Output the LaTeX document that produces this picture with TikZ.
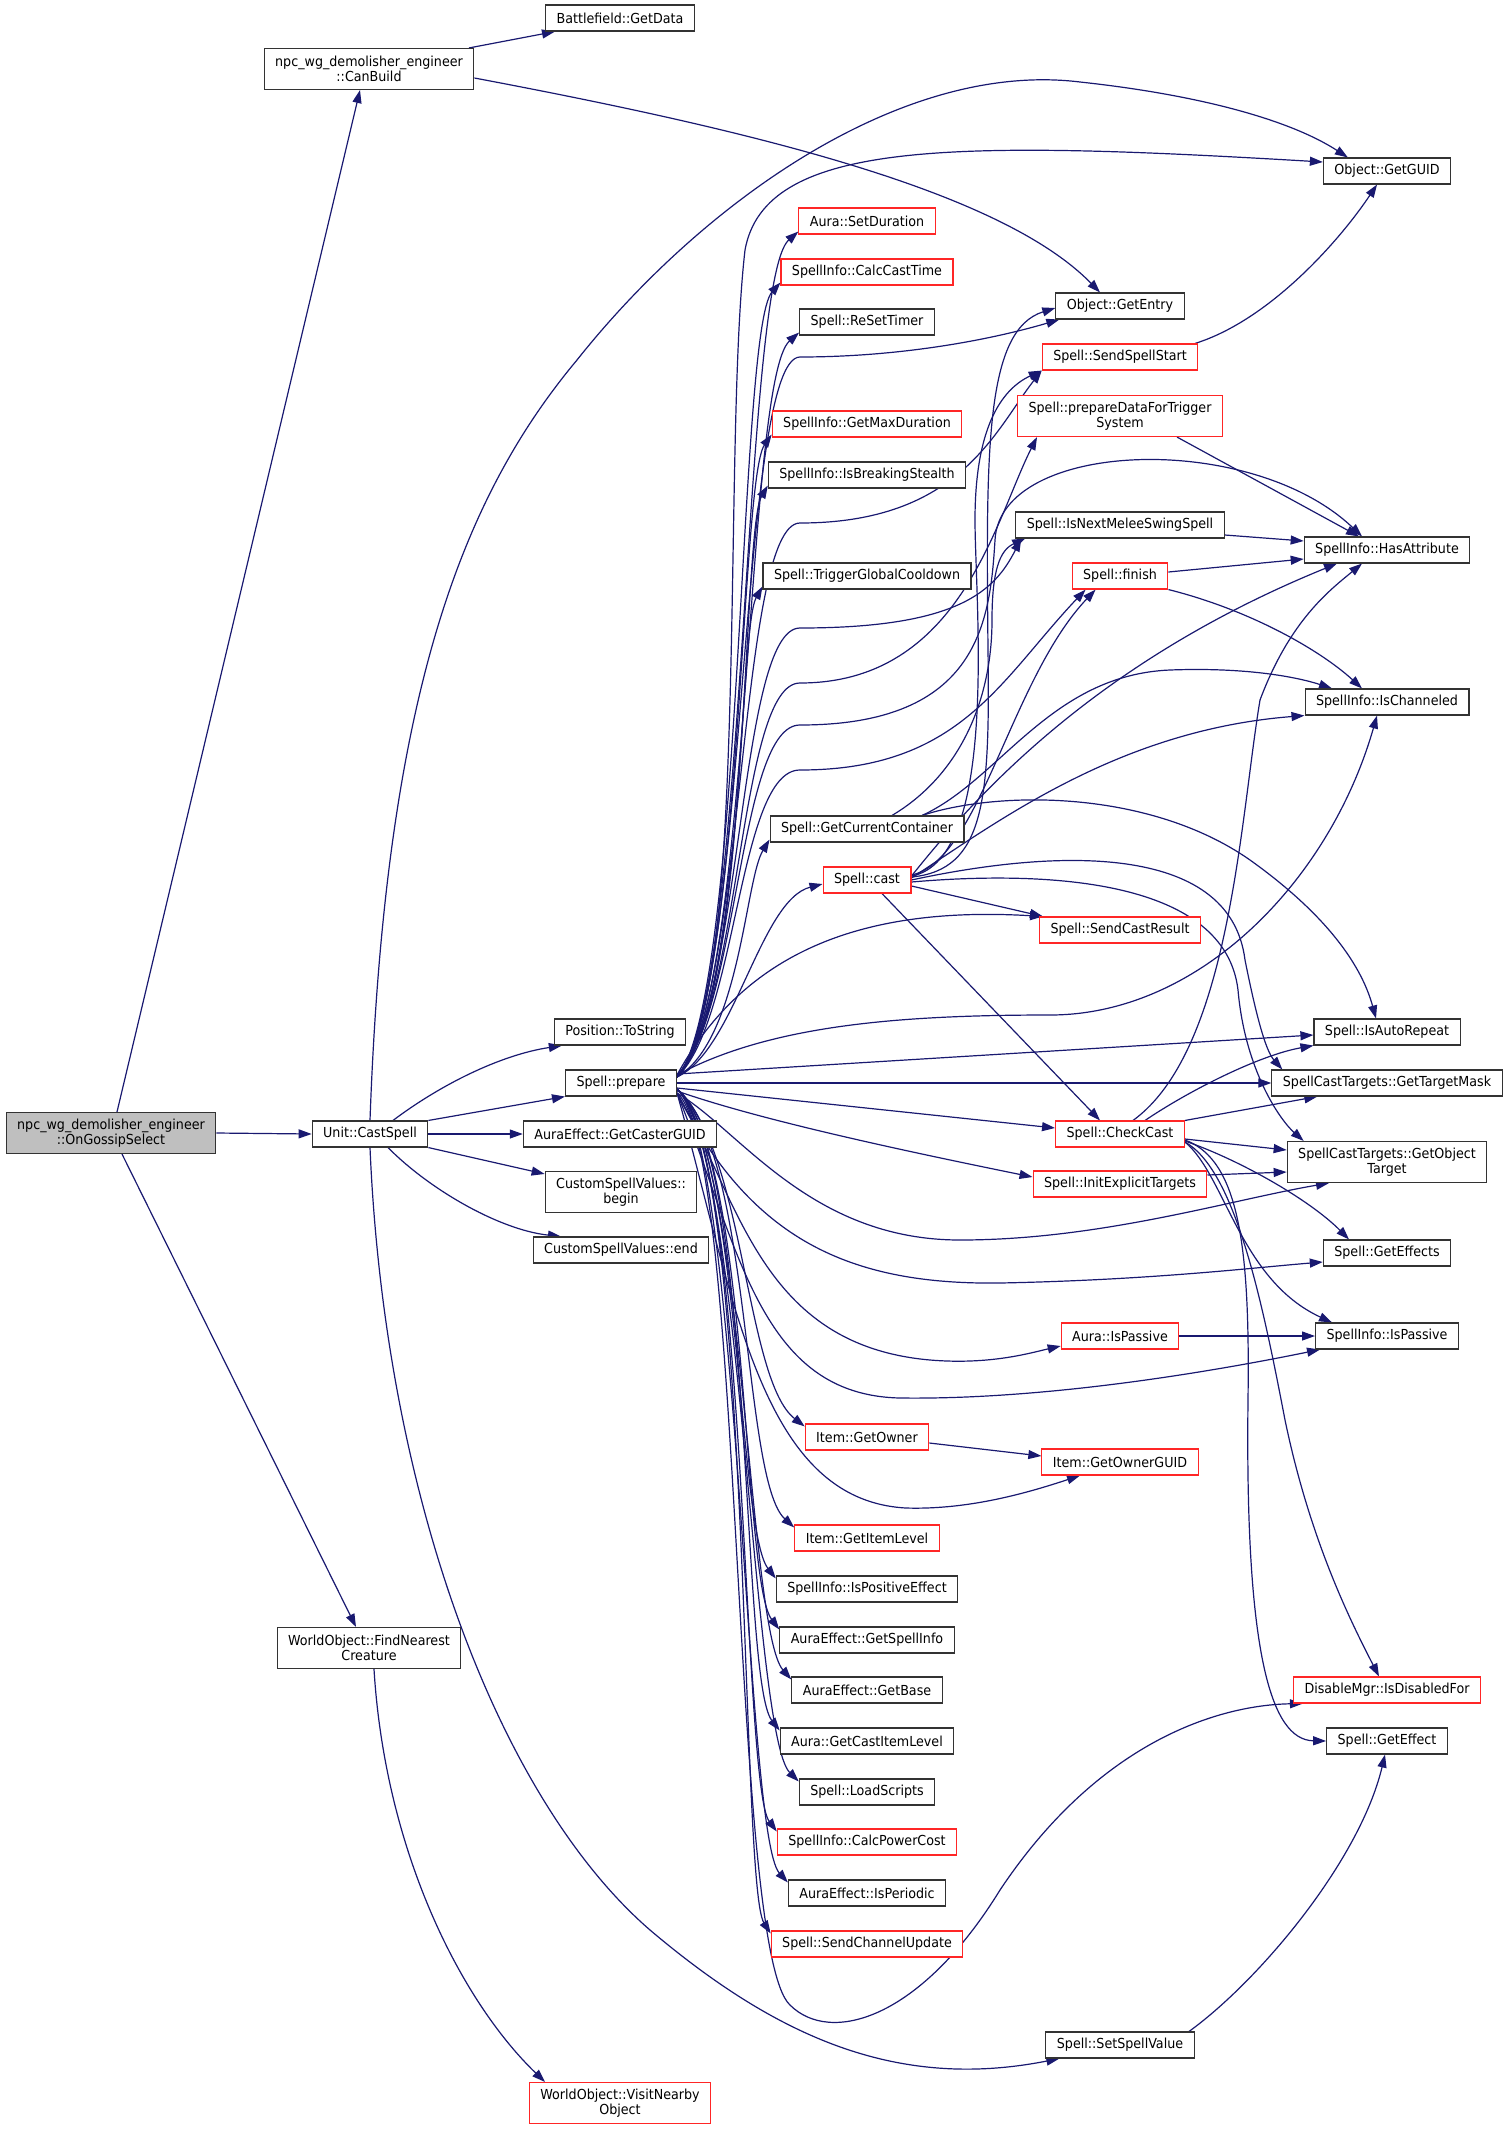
\documentclass[tikz,border=0pt]{standalone}
\usepackage{fontspec}
\setmainfont{DejaVu Sans}[FakeStretch=0.92]
\usetikzlibrary{arrows.meta}
\definecolor{edgeblue}{RGB}{25,25,112}
\definecolor{boxgray}{RGB}{191,191,191}
\pgfdeclarelayer{bg}
\pgfsetlayers{bg,main}
\tikzset{
  fn/.style={draw=black!80, line width=1.1pt, fill=white, minimum height=26pt, inner xsep=11pt, inner ysep=2pt, align=center, font=\fontsize{13.8}{14.7}\selectfont},
  fnr/.style={fn, draw=red!85!white},
  two/.style={minimum height=41pt},
  call/.style={draw=edgeblue, line width=1.2pt, -{Triangle[length=13pt,width=9pt]}}
}

\begin{document}
\begin{tikzpicture}[x=1pt,y=-1pt]
\useasboundingbox (0,0) rectangle (1508,2130);
\node[fn,two,fill=boxgray] (gossip) at (111,1133) {npc\_wg\_demolisher\_engineer\\::OnGossipSelect};
\node[fn,two] (canbuild) at (369,69) {npc\_wg\_demolisher\_engineer\\::CanBuild};
\node[fn] (castspell) at (370,1134) {Unit::CastSpell};
\node[fn,two] (findnear) at (369,1648) {WorldObject::FindNearest\\Creature};
\node[fn] (getdata) at (620,18) {Battlefield::GetData};
\node[fn] (tostring) at (620,1032) {Position::ToString};
\node[fn] (prepare) at (621,1083) {Spell::prepare};
\node[fn] (castergd) at (620,1134) {AuraEffect::GetCasterGUID};
\node[fn,two] (cbegin) at (621,1192) {CustomSpellValues::\\begin};
\node[fn] (cend) at (621,1250) {CustomSpellValues::end};
\node[fnr,two] (visit) at (620,2103) {WorldObject::VisitNearby\\Object};
\node[fnr] (setdur) at (867,221) {Aura::SetDuration};
\node[fnr] (calccast) at (867,272) {SpellInfo::CalcCastTime};
\node[fn] (resettimer) at (867,322) {Spell::ReSetTimer};
\node[fnr] (maxdur) at (867,424) {SpellInfo::GetMaxDuration};
\node[fn] (stealth) at (867,475) {SpellInfo::IsBreakingStealth};
\node[fn] (gcd) at (867,576) {Spell::TriggerGlobalCooldown};
\node[fn] (curcont) at (867,829) {Spell::GetCurrentContainer};
\node[fnr] (cast) at (867,880) {Spell::cast};
\node[fnr] (getowner) at (867,1437) {Item::GetOwner};
\node[fnr] (itemlevel) at (867,1538) {Item::GetItemLevel};
\node[fn] (positive) at (867,1589) {SpellInfo::IsPositiveEffect};
\node[fn] (spellinfo) at (867,1640) {AuraEffect::GetSpellInfo};
\node[fn] (getbase) at (867,1690) {AuraEffect::GetBase};
\node[fn] (castitemlvl) at (867,1741) {Aura::GetCastItemLevel};
\node[fn] (loadscripts) at (867,1792) {Spell::LoadScripts};
\node[fnr] (powercost) at (867,1842) {SpellInfo::CalcPowerCost};
\node[fn] (periodic) at (867,1893) {AuraEffect::IsPeriodic};
\node[fnr] (chanupdate) at (867,1944) {Spell::SendChannelUpdate};
\node[fn] (getentry) at (1120,306) {Object::GetEntry};
\node[fnr] (spellstart) at (1120,357) {Spell::SendSpellStart};
\node[fnr,two] (trigsys) at (1120,416) {Spell::prepareDataForTrigger\\System};
\node[fn] (nextmelee) at (1120,525) {Spell::IsNextMeleeSwingSpell};
\node[fnr] (finish) at (1120,576) {Spell::finish};
\node[fnr] (castresult) at (1120,930) {Spell::SendCastResult};
\node[fnr] (checkcast) at (1120,1134) {Spell::CheckCast};
\node[fnr] (initexpl) at (1120,1184) {Spell::InitExplicitTargets};
\node[fnr] (aurapassive) at (1120,1336) {Aura::IsPassive};
\node[fnr] (ownerguid) at (1120,1462) {Item::GetOwnerGUID};
\node[fn] (setvalue) at (1120,2045) {Spell::SetSpellValue};
\node[fn] (getguid) at (1387,171) {Object::GetGUID};
\node[fn] (hasattr) at (1387,550) {SpellInfo::HasAttribute};
\node[fn] (channeled) at (1387,702) {SpellInfo::IsChanneled};
\node[fn] (autorepeat) at (1387,1032) {Spell::IsAutoRepeat};
\node[fn] (targetmask) at (1387,1083) {SpellCastTargets::GetTargetMask};
\node[fn,two] (objtarget) at (1387,1162) {SpellCastTargets::GetObject\\Target};
\node[fn] (geteffects) at (1387,1253) {Spell::GetEffects};
\node[fn] (infopassive) at (1387,1336) {SpellInfo::IsPassive};
\node[fnr] (disabled) at (1387,1690) {DisableMgr::IsDisabledFor};
\node[fn] (geteffect) at (1387,1741) {Spell::GetEffect};

\begin{pgfonlayer}{bg}
\draw[call] ([xshift=6pt]gossip.north) -- ([xshift=-9pt]canbuild.south);
\draw[call] (gossip.east) -- (castspell.west);
\draw[call] ([xshift=11pt]gossip.south) -- ([xshift=-13pt]findnear.north);
\draw[call] ([xshift=100pt]canbuild.north) -- ([xshift=-65pt]getdata.south);
\draw[call] ([yshift=-9pt]canbuild.east) .. controls (750,130) and (1000,190) .. ([xshift=-20pt]getentry.north);
\draw[call] ([xshift=5pt]findnear.south) .. controls (385,1850) and (460,2000) .. ([xshift=-75pt]visit.north);
\draw[call] ([xshift=23pt]castspell.north) .. controls (440,1085) and (500,1055) .. ([xshift=8pt]tostring.south west);
\draw[call] (castspell.north east) -- (prepare.south west);
\draw[call] (castspell.east) -- (castergd.west);
\draw[call] (castspell.south east) -- ([yshift=-3pt]cbegin.north west);
\draw[call] ([xshift=18pt]castspell.south) .. controls (430,1190) and (500,1230) .. ([xshift=-60pt]cend.north);
\draw[call] (castspell.north) .. controls (385,700) and (460,500) .. (577,360) .. controls (700,205) and (900,60) .. (1080,82) .. controls (1200,95) and (1290,120) .. ([xshift=25pt]getguid.north west);
\draw[call] (castspell.south) .. controls (385,1500) and (500,1800) .. (650,1930) .. controls (780,2040) and (900,2090) .. ([xshift=14pt]setvalue.south west);
\draw[call] ([xshift=69pt]setvalue.north) .. controls (1260,1980) and (1360,1860) .. ([xshift=-2pt]geteffect.south);

\draw[call] ([yshift=6pt]prepare.east) .. controls (748,1000) and (742,281) .. ([yshift=3pt]setdur.south west);
\draw[call] ([yshift=6pt]prepare.east) .. controls (744,1000) and (738,330) .. ([yshift=3pt]calccast.south west);
\draw[call] ([yshift=6pt]prepare.east) .. controls (752,1000) and (745,380) .. ([yshift=3pt]resettimer.south west);
\draw[call] ([yshift=6pt]prepare.east) .. controls (742,1000) and (740,480) .. ([yshift=3pt]maxdur.south west);
\draw[call] ([yshift=6pt]prepare.east) .. controls (750,1000) and (742,530) .. ([yshift=3pt]stealth.south west);
\draw[call] ([yshift=6pt]prepare.east) .. controls (745,1010) and (738,630) .. ([yshift=3pt]gcd.south west);
\draw[call] ([yshift=6pt]prepare.east) .. controls (740,1040) and (745,880) .. ([yshift=3pt]curcont.south west);
\draw[call] ([yshift=6pt]prepare.east) .. controls (735,1050) and (760,900) .. ([yshift=-4pt]cast.west);
\draw[call] ([yshift=8pt]prepare.east) .. controls (750,1000) and (722,450) .. (745,250) .. controls (765,140) and (950,140) .. ([yshift=9pt]getguid.west);
\draw[call] ([yshift=6pt]prepare.east) .. controls (748,1000) and (738,357) .. (800,357) .. controls (900,357) and (990,340) .. ([xshift=4pt]getentry.south west);
\draw[call] ([yshift=6pt]prepare.east) .. controls (746,1000) and (738,523) .. (800,523) .. controls (960,523) and (995,430) .. (spellstart.south west);
\draw[call] ([yshift=6pt]prepare.east) .. controls (744,1000) and (738,628) .. (800,628) .. controls (960,628) and (995,590) .. ([xshift=6pt]nextmelee.south west);
\draw[call] ([yshift=6pt]prepare.east) .. controls (742,1010) and (738,683) .. (800,683) .. controls (960,683) and (995,520) .. ([xshift=20pt]trigsys.south west);
\draw[call] ([yshift=6pt]prepare.east) .. controls (740,1010) and (738,725) .. (800,725) .. controls (980,725) and (990,620) .. (995,540) .. controls (1000,440) and (1250,430) .. ([xshift=-25pt]hasattr.north);
\draw[call] ([yshift=6pt]prepare.east) .. controls (738,1020) and (738,770) .. (800,770) .. controls (960,770) and (1000,680) .. ([xshift=14pt]finish.south west);
\draw[call] ([yshift=8pt]prepare.east) .. controls (740,960) and (850,905) .. ([xshift=4pt]castresult.north west);
\draw[call] ([yshift=8pt]prepare.east) .. controls (770,1025) and (900,1015) .. (1050,1015) .. controls (1200,1015) and (1330,880) .. ([xshift=-10pt]channeled.south);
\draw[call] ([yshift=9pt]prepare.east) -- ([yshift=-3pt]autorepeat.west);
\draw[call] (prepare.east) -- (targetmask.west);
\draw[call] ([yshift=-5pt]prepare.east) -- ([yshift=6pt]checkcast.west);
\draw[call] ([yshift=-8pt]prepare.east) .. controls (760,1120) and (900,1150) .. ([yshift=7pt]initexpl.west);
\draw[call] ([yshift=-10pt]prepare.east) .. controls (740,1130) and (810,1240) .. (960,1240) .. controls (1100,1240) and (1230,1200) .. ([xshift=-58pt]objtarget.south);
\draw[call] ([yshift=-10pt]prepare.east) .. controls (750,1240) and (850,1285) .. (1000,1283) .. controls (1150,1280) and (1250,1268) .. ([yshift=-9pt]geteffects.west);
\draw[call] ([yshift=-10pt]prepare.east) .. controls (740,1200) and (760,1345) .. (930,1360) .. controls (990,1365) and (1030,1353) .. ([yshift=-10pt]aurapassive.west);
\draw[call] ([yshift=-10pt]prepare.east) .. controls (740,1250) and (760,1395) .. (900,1398) .. controls (1050,1400) and (1220,1370) .. ([xshift=5pt]infopassive.south west);
\draw[call] ([yshift=-10pt]prepare.east) .. controls (735,1300) and (760,1500) .. (906,1508) .. controls (970,1510) and (1030,1492) .. ([xshift=-40pt]ownerguid.south);
\draw[call] ([yshift=-10pt]prepare.east) .. controls (745,1150) and (730,1950) .. (790,2005) .. controls (830,2045) and (920,2020) .. (1000,1890) .. controls (1100,1740) and (1220,1705) .. ([xshift=10pt]disabled.south west);
\draw[call] ([yshift=-6pt]prepare.east) .. controls (745,1150) and (745,1380) .. ([yshift=-3pt]getowner.north west);
\draw[call] ([yshift=-6pt]prepare.east) .. controls (752,1150) and (742,1480) .. ([yshift=-3pt]itemlevel.north west);
\draw[call] ([yshift=-6pt]prepare.east) .. controls (740,1150) and (738,1530) .. ([yshift=-3pt]positive.north west);
\draw[call] ([yshift=-6pt]prepare.east) .. controls (750,1150) and (742,1580) .. ([yshift=-3pt]spellinfo.north west);
\draw[call] ([yshift=-6pt]prepare.east) .. controls (744,1150) and (748,1630) .. ([yshift=-3pt]getbase.north west);
\draw[call] ([yshift=-6pt]prepare.east) .. controls (755,1150) and (740,1680) .. ([yshift=-3pt]castitemlvl.north west);
\draw[call] ([yshift=-6pt]prepare.east) .. controls (742,1150) and (752,1735) .. ([yshift=-3pt]loadscripts.north west);
\draw[call] ([yshift=-6pt]prepare.east) .. controls (748,1150) and (742,1785) .. ([yshift=-3pt]powercost.north west);
\draw[call] ([yshift=-6pt]prepare.east) .. controls (740,1150) and (745,1835) .. ([yshift=-3pt]periodic.north west);
\draw[call] ([yshift=-6pt]prepare.east) .. controls (752,1150) and (740,1885) .. ([yshift=-3pt]chanupdate.north west);

\draw[call] ([yshift=3pt]cast.east) .. controls (985,870) and (990,800) .. (988,650) .. controls (986,450) and (985,330) .. ([yshift=-2pt]getentry.west);
\draw[call] ([yshift=4pt]cast.east) .. controls (1000,860) and (975,600) .. (975,520) .. controls (975,430) and (1000,390) .. (spellstart.south west);
\draw[call] ([yshift=5pt]cast.east) .. controls (980,860) and (1010,680) .. ([xshift=24pt]finish.south west);
\draw[call] ([yshift=4pt]cast.east) .. controls (980,790) and (1100,660) .. ([xshift=-50pt]hasattr.south);
\draw[call] ([yshift=2pt]cast.east) .. controls (1000,820) and (1120,730) .. (channeled.south west);
\draw[call] ([yshift=-6pt]cast.east) -- ([xshift=4pt]castresult.north west);
\draw[call] ([xshift=15pt]cast.south) -- ([xshift=-20pt]checkcast.north);
\draw[call] (cast.east) .. controls (1050,850) and (1230,840) .. (1245,960) .. controls (1255,1010) and (1265,1050) .. ([xshift=11pt]targetmask.north west);
\draw[call] ([yshift=-2pt]cast.east) .. controls (1050,870) and (1225,880) .. (1238,990) .. controls (1245,1070) and (1280,1120) .. ([xshift=17pt]objtarget.north west);

\draw[call] ([xshift=25pt]curcont.north) .. controls (960,775) and (992,700) .. (992,620) .. controls (992,570) and (1000,550) .. ([xshift=10pt]nextmelee.south west);
\draw[call] ([xshift=55pt]curcont.north) .. controls (1000,780) and (1050,675) .. (1170,670) .. controls (1250,667) and (1300,678) .. ([xshift=-55pt]channeled.north);
\draw[call] ([xshift=55pt]curcont.north) .. controls (1000,790) and (1150,790) .. (1250,860) .. controls (1320,910) and (1360,960) .. ([xshift=-11pt]autorepeat.north);

\draw[call] ([xshift=75pt]spellstart.north) .. controls (1270,320) and (1340,240) .. ([xshift=-10pt]getguid.south);
\draw[call] ([xshift=57pt]trigsys.south) -- ([xshift=-28pt]hasattr.north);
\draw[call] ([yshift=-10pt]nextmelee.east) -- ([yshift=9pt]hasattr.west);
\draw[call] ([yshift=4pt]finish.east) -- ([yshift=-9pt]hasattr.west);
\draw[call] (finish.south east) .. controls (1250,610) and (1320,650) .. ([xshift=-25pt]channeled.north);

\draw[call] ([xshift=13pt]checkcast.north) .. controls (1230,1050) and (1240,820) .. (1260,700) .. controls (1290,620) and (1330,590) .. ([xshift=-25pt]hasattr.south);
\draw[call] ([xshift=25pt]checkcast.north) .. controls (1190,1090) and (1260,1055) .. (autorepeat.south west);
\draw[call] (checkcast.north east) -- ([xshift=46pt]targetmask.south west);
\draw[call] ([yshift=-5pt]checkcast.east) -- ([yshift=12pt]objtarget.west);
\draw[call] ([yshift=-7pt]checkcast.east) .. controls (1240,1160) and (1310,1200) .. ([xshift=-38pt]geteffects.north);
\draw[call] ([yshift=-8pt]checkcast.east) .. controls (1225,1175) and (1240,1280) .. ([xshift=-55pt]infopassive.north);
\draw[call] ([yshift=-8pt]checkcast.east) .. controls (1235,1170) and (1262,1300) .. (1285,1420) .. controls (1310,1540) and (1350,1620) .. ([xshift=-8pt]disabled.north);
\draw[call] ([yshift=-6pt]checkcast.east) .. controls (1240,1160) and (1250,1250) .. (1248,1400) .. controls (1245,1650) and (1270,1740) .. (geteffect.west);
\draw[call] ([yshift=9pt]initexpl.east) -- ([yshift=-10pt]objtarget.west);
\draw[call] (aurapassive.east) -- (infopassive.west);
\draw[call] ([yshift=-6pt]getowner.east) -- ([yshift=6pt]ownerguid.west);
\end{pgfonlayer}
\end{tikzpicture}
\end{document}
